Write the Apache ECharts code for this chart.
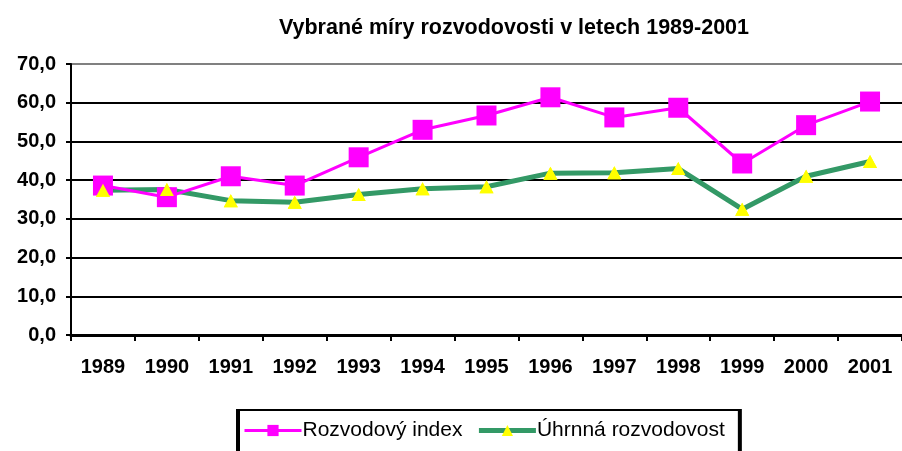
<!DOCTYPE html>
<html><head><meta charset="utf-8">
<script src="https://cdn.jsdelivr.net/npm/echarts@6/dist/echarts.min.js"></script>
<style>html,body{margin:0;padding:0;background:#fff}#c{width:902px;height:451px}</style>
</head><body><div id="c"></div>
<script>
const years = ['1989','1990','1991','1992','1993','1994','1995','1996','1997','1998','1999','2000','2001'];
const rozvodovyIndex = [38.6, 35.6, 41.0, 38.6, 45.9, 53.0, 56.7, 61.4, 56.2, 58.7, 44.3, 54.2, 60.3];
const uhrnnaRozvodovost = [37.4, 37.6, 34.7, 34.3, 36.3, 37.8, 38.3, 41.8, 41.9, 43.0, 32.5, 41.0, 44.8];
const titleText = 'Vybrané míry rozvodovosti v letech 1989-2001';
const seriesNames = ['Rozvodový index', 'Úhrnná rozvodovost'];

const font = '"Liberation Sans", Arial, sans-serif';
const chart = echarts.init(document.getElementById('c'), null, {renderer: 'canvas'});
chart.setOption({
  animation: false,
  backgroundColor: '#fff',
  title: {
    text: titleText, left: 509, top: 12, textAlign: 'center',
    textStyle: {fontFamily: font, fontWeight: 'bold', fontSize: 21.5, color: '#000'}
  },
  grid: {left: 71, right: 0, top: 64, bottom: 116, containLabel: false},
  legend: {
    left: 237, top: 410,
    padding: [10, 14, 30, 6],
    borderColor: '#000', borderWidth: 2,
    shadowColor: '#000', shadowOffsetX: 2, shadowOffsetY: 0, shadowBlur: 0,
    backgroundColor: '#fff',
    itemWidth: 57, itemHeight: 14, itemGap: 14,
    textStyle: {fontFamily: font, fontSize: 21, color: '#000', padding: [0, 0, 0, -4]},
    data: [
      {name: seriesNames[0], lineStyle: {width: 3, color: '#FF00FF'}},
      {name: seriesNames[1], lineStyle: {width: 5, color: '#339966'}}
    ]
  },
  xAxis: {
    type: 'category', data: years, boundaryGap: true,
    axisLine: {lineStyle: {color: '#000', width: 3}},
    axisTick: {show: true, length: 6, lineStyle: {color: '#000', width: 2}},
    axisLabel: {fontFamily: font, fontWeight: 'bold', fontSize: 20, color: '#000', margin: 22}
  },
  yAxis: {
    type: 'value', min: 0, max: 70, interval: 10,
    axisLine: {show: true, lineStyle: {color: '#000', width: 2}},
    axisTick: {show: true, length: 5, lineStyle: {color: '#000', width: 2}},
    axisLabel: {fontFamily: font, fontWeight: 'bold', fontSize: 20, color: '#000', margin: 15,
      formatter: v => v.toFixed(1).replace('.', ',')},
    splitLine: {show: true, lineStyle: {color: ['#000','#000','#000','#000','#000','#000','#000','#808080'], width: 2}}
  },
  series: [
    {
      name: seriesNames[0], type: 'line', data: rozvodovyIndex,
      symbol: 'rect', symbolSize: 20,
      lineStyle: {color: '#FF00FF', width: 3},
      itemStyle: {color: '#FF00FF'},
      z: 3
    },
    {
      name: seriesNames[1], type: 'line', data: uhrnnaRozvodovost,
      symbol: 'triangle', symbolSize: [14, 13],
      lineStyle: {color: '#339966', width: 5},
      itemStyle: {color: '#FFFF00'},
      z: 2
    },
    {
      name: 'markers-top', type: 'line', data: uhrnnaRozvodovost,
      symbol: 'triangle', symbolSize: [14, 13], showSymbol: true,
      lineStyle: {width: 0, opacity: 0},
      itemStyle: {color: '#FFFF00'},
      silent: true, z: 4
    }
  ]
});
</script></body></html>
